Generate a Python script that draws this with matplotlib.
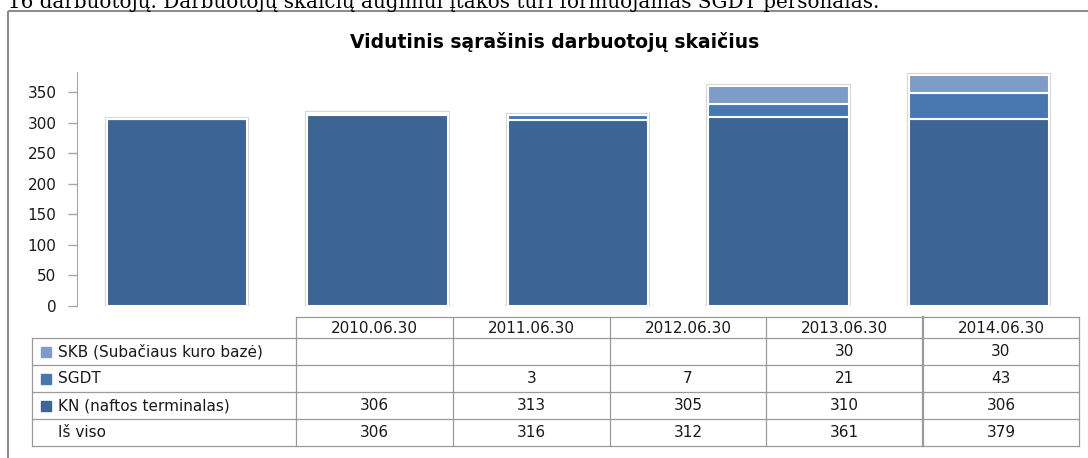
import matplotlib
matplotlib.use("Agg")
import matplotlib.pyplot as plt
import numpy as np

# Duomenys
categories = ["2010.06.30", "2011.06.30", "2012.06.30", "2013.06.30", "2014.06.30"]
series_names = ["SKB (Subačiaus kuro bazė)", "SGDT", "KN (naftos terminalas)"]
kn = [306, 313, 305, 310, 306]
sgdt = [None, 3, 7, 21, 43]
skb = [None, None, None, 30, 30]
total = [306, 316, 312, 361, 379]
yticks = [0, 50, 100, 150, 200, 250, 300, 350]

c_kn = "#3c6494"
c_sgdt = "#4877b0"
c_skb = "#7f9cc8"

plt.rcParams["font.family"] = ["DejaVu Sans"]

W, H = 1088, 458
fig = plt.figure(figsize=(W / 100, H / 100), dpi=100)

# Stulpelinė diagrama
ax = fig.add_axes([76.5 / W, 1 - 306 / H, 1003 / W, (306 - 71.7) / H])
x = np.arange(len(categories))
kn_v = np.array([v or 0 for v in kn], dtype=float)
sgdt_v = np.array([v or 0 for v in sgdt], dtype=float)
skb_v = np.array([v or 0 for v in skb], dtype=float)
bw = 0.70

# šešėlis aplink stulpelius
ax.bar(x, total, bw, color="none", edgecolor="#d6d6d6", linewidth=3, zorder=1)
ax.bar(x, kn_v, bw, color=c_kn, edgecolor="white", linewidth=1.5, zorder=2)
ax.bar(x, sgdt_v, bw, bottom=kn_v, color=c_sgdt, edgecolor="white", linewidth=1.5, zorder=2)
ax.bar(x, skb_v, bw, bottom=kn_v + sgdt_v, color=c_skb, edgecolor="white", linewidth=1.5, zorder=2)

ax.set_xlim(-0.5, len(categories) - 0.5)
ax.set_ylim(0, 383.7)
ax.set_yticks(yticks)
ax.set_xticks([])
for s in ["top", "right", "bottom"]:
    ax.spines[s].set_visible(False)
ax.spines["left"].set_color("#a6a6a6")
ax.tick_params(axis="y", length=6.5, width=1, color="#a6a6a6", pad=8, labelsize=11, labelcolor="#1a1a1a")
ax.patch.set_alpha(0)

# Piešimo sluoksnis rėmeliui, antraštei ir lentelei (pikseliais)
tab = fig.add_axes([0, 0, 1, 1])
tab.set_xlim(0, W)
tab.set_ylim(H, 0)
tab.axis("off")

# teksto eilutė viršuje (nukirpta kaip originale)
tab.text(8, 8, "16 darbuotojų. Darbuotojų skaičių augimui įtakos turi formuojamas SGDT personalas.",
         family="DejaVu Serif", fontsize=14.3, va="baseline", ha="left", color="black")

# rėmelis
fc = "#8c8c8c"
tab.plot([8.3, 8.3], [10.5, H], color=fc, lw=1.5, solid_capstyle="butt")
tab.plot([8.3, W], [10.5, 10.5], color=fc, lw=1.5, solid_capstyle="butt")

tab.text(555, 42, "Vidutinis sąrašinis darbuotojų skaičius", fontsize=13.5, fontweight="bold",
         ha="center", va="center", color="black")

# lentelė
col_edges = [296, 453, 610, 766, 923, 1079]
row_edges = [316.7, 338.3, 365, 392.3, 419, 445.7]
lx0 = 32.3
lc = "#9a9a9a"

tab.plot([col_edges[0], col_edges[-1]], [row_edges[0]] * 2, color=lc, lw=0.9)
for yy in row_edges[1:]:
    tab.plot([lx0, col_edges[-1]], [yy, yy], color=lc, lw=0.9)
tab.plot([lx0, lx0], [row_edges[1], row_edges[-1]], color=lc, lw=0.9)
for i, xx in enumerate(col_edges):
    tab.plot([xx, xx], [row_edges[0], row_edges[-1]], color=lc, lw=1.6 if i == 4 else 0.9)

col_c = [(a + b) / 2 for a, b in zip(col_edges[:-1], col_edges[1:])]
row_c = [(a + b) / 2 for a, b in zip(row_edges[:-1], row_edges[1:])]
fs = 11

for cx, lab in zip(col_c, categories):
    tab.text(cx, row_c[0] + 1, lab, fontsize=fs, ha="center", va="center", color="#1a1a1a")

rows = [skb, sgdt, kn, total]
labels = series_names + ["Iš viso"]
keys = [c_skb, c_sgdt, c_kn, None]
for r, (vals, lab, key) in enumerate(zip(rows, labels, keys)):
    cy = row_c[r + 1]
    if key is not None:
        tab.add_patch(plt.Rectangle((40.7, cy - 5), 10, 10, color=key))
    tab.text(58, cy, lab, fontsize=fs, ha="left", va="center", color="#1a1a1a")
    for cx, v in zip(col_c, vals):
        if v is not None:
            tab.text(cx, cy, str(v), fontsize=fs, ha="center", va="center", color="#1a1a1a")

fig.savefig("out.png", dpi=100)
